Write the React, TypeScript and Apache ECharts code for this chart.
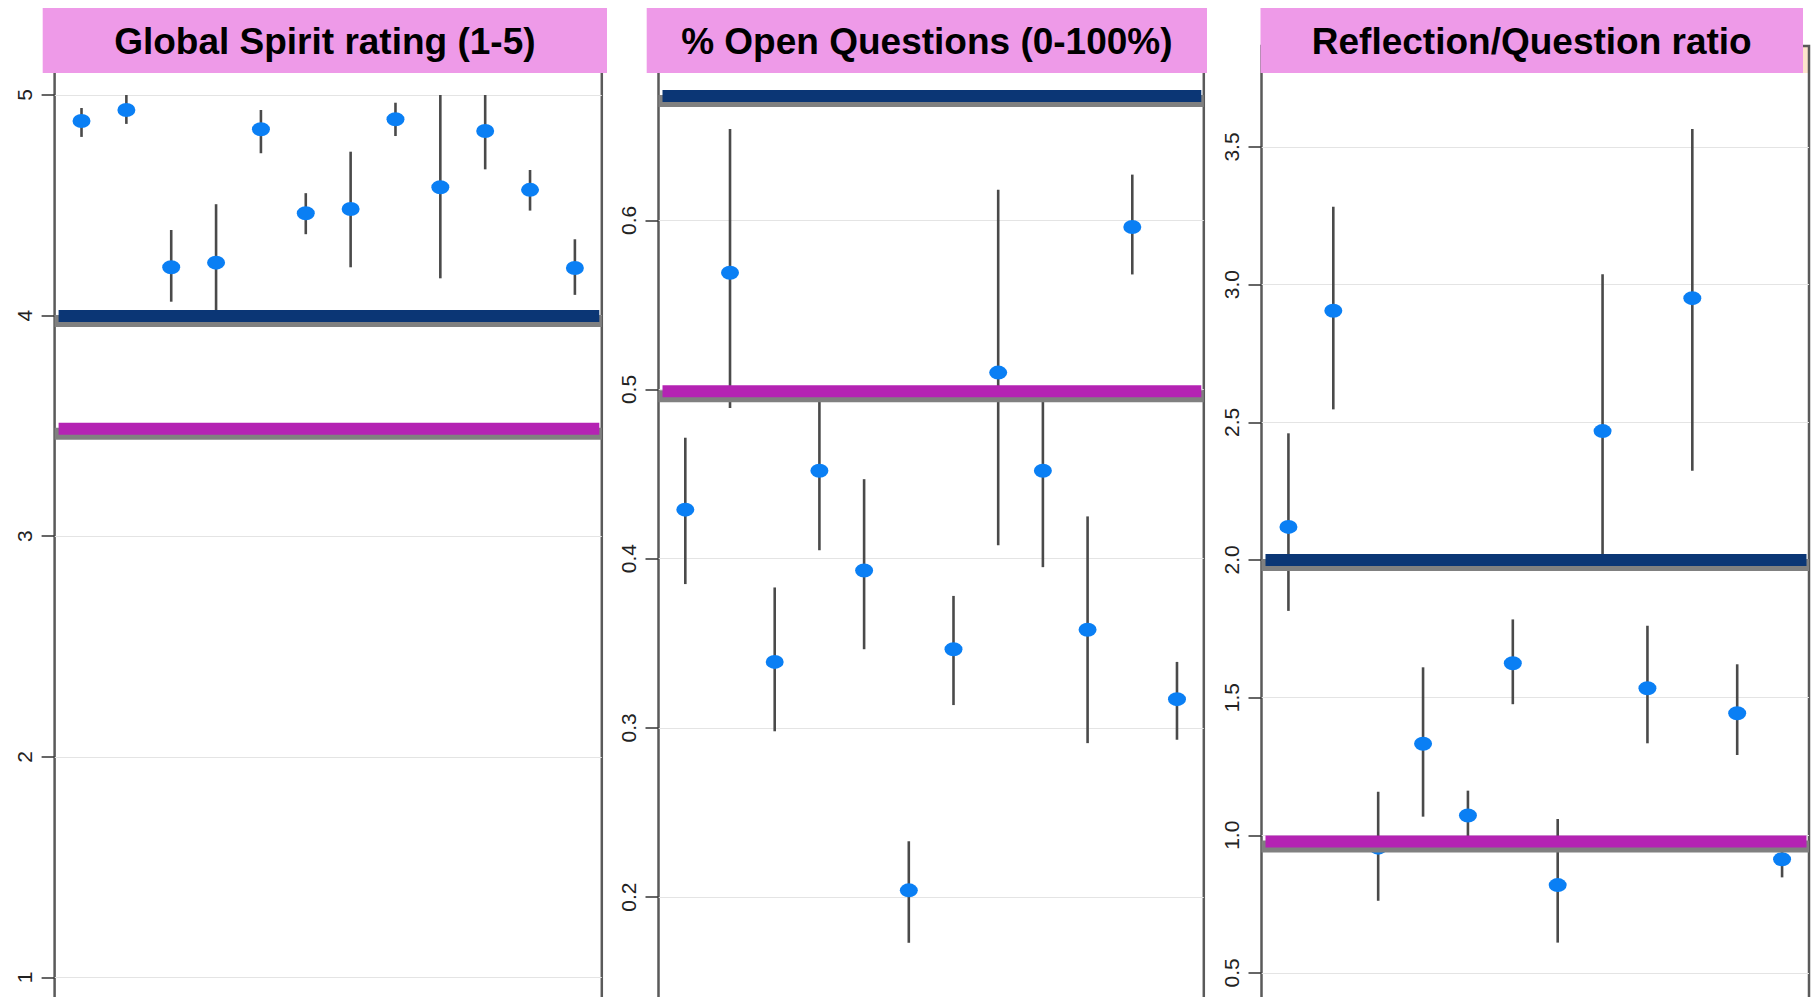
import React, { useEffect, useRef } from "react";
import * as echarts from "echarts";

// ---------- data ----------
const sessions = [1, 2, 3, 4, 5, 6, 7, 8, 9, 10, 11, 12];

// Global Spirit rating (1-5)
const spiritMean = [4.882, 4.932, 4.219, 4.24, 4.845, 4.464, 4.483, 4.89, 4.582, 4.837, 4.57, 4.216];
const spiritLow = [4.81, 4.869, 4.063, 4.0, 4.736, 4.369, 4.219, 4.814, 4.169, 4.663, 4.476, 4.094];
const spiritHigh = [4.941, 5.0, 4.388, 4.505, 4.932, 4.555, 4.743, 4.965, 5.0, 5.0, 4.66, 4.346];
const spiritTicks = [1, 2, 3, 4, 5];
const spiritNavyLine = 3.998;
const spiritMagentaLine = 3.487;

// % Open Questions (0-100%)
const openMean = [0.429, 0.569, 0.339, 0.452, 0.393, 0.204, 0.3465, 0.51, 0.452, 0.358, 0.596, 0.317];
const openLow = [0.385, 0.489, 0.298, 0.405, 0.3465, 0.173, 0.3135, 0.408, 0.395, 0.291, 0.568, 0.293];
const openHigh = [0.4715, 0.654, 0.383, 0.497, 0.447, 0.233, 0.378, 0.618, 0.497, 0.425, 0.627, 0.339];
const openTicks = [0.2, 0.3, 0.4, 0.5, 0.6];
const openNavyLine = 0.6735;
const openMagentaLine = 0.499;

// Reflection/Question ratio
const ratioMean = [2.12, 2.905, 0.955, 1.3325, 1.072, 1.625, 0.819, 2.468, 1.534, 2.951, 1.443, 0.913];
const ratioLow = [1.815, 2.547, 0.762, 1.0675, 0.997, 1.476, 0.61, 2.02, 1.334, 2.324, 1.2915, 0.847];
const ratioHigh = [2.46, 3.283, 1.158, 1.61, 1.162, 1.784, 1.059, 3.038, 1.761, 3.565, 1.621, 0.97];
const ratioTicks = [0.5, 1.0, 1.5, 2.0, 2.5, 3.0, 3.5];
const ratioNavyLine = 2.0;
const ratioMagentaLine = 0.977;

const titles = ["Global Spirit rating (1-5)", "% Open Questions (0-100%)", "Reflection/Question ratio"];

// ---------- layout / style ----------
const X_MIN = 0.4;
const X_MAX = 12.6;
const GRID_TOP = 46;

const panels = [
  {
    title: titles[0], mean: spiritMean, low: spiritLow, high: spiritHigh, ticks: spiritTicks,
    navy: spiritNavyLine, magenta: spiritMagentaLine, decimals: 0,
    left: 54.6, right: 601.8, refValue: 5, refY: 95, ppu: 220.6, interval: 1,
    boxX0: 42.7, boxX1: 607,
  },
  {
    title: titles[1], mean: openMean, low: openLow, high: openHigh, ticks: openTicks,
    navy: openNavyLine, magenta: openMagentaLine, decimals: 1,
    left: 658.5, right: 1203.8, refValue: 0.6, refY: 220.3, ppu: 1692, interval: 0.1,
    boxX0: 646.7, boxX1: 1207,
  },
  {
    title: titles[2], mean: ratioMean, low: ratioLow, high: ratioHigh, ticks: ratioTicks,
    navy: ratioNavyLine, magenta: ratioMagentaLine, decimals: 1,
    left: 1261.5, right: 1809, refValue: 3.5, refY: 147, ppu: 275.3, interval: 0.5,
    boxX0: 1260.5, boxX1: 1803,
  },
];

const NAVY = "#0b3675";
const MAGENTA = "#b423b3";
const SHADOW = "#808080";
const POINT = "#0a7ff4";
const BAR = "#4a4a4a";
const TITLE_BG = "#ee9ae8";

function buildOption() {
  const grid: any[] = [];
  const xAxis: any[] = [];
  const yAxis: any[] = [];
  const series: any[] = [];
  const graphic: any[] = [];

  panels.forEach((p, i) => {
    const yMin = 0;
    const yMax = p.refValue + (p.refY - GRID_TOP) / p.ppu;
    const height = (yMax - yMin) * p.ppu;
    const width = p.right - p.left;
    const pxPerX = width / (X_MAX - X_MIN);

    grid.push({
      left: p.left, top: GRID_TOP, width, height,
      show: true, borderColor: "#5a5a5a", borderWidth: 2.5, backgroundColor: "transparent",
      containLabel: false,
      outerBoundsMode: "none",
    });
    xAxis.push({
      type: "value", gridIndex: i, min: X_MIN, max: X_MAX, show: false,
      splitLine: { show: false },
    });
    yAxis.push({
      type: "value", gridIndex: i, min: yMin, max: yMax, interval: p.interval,
      axisLine: { show: false },
      axisTick: { show: true, inside: false, length: 13, lineStyle: { color: "#333", width: 1.5 }, customValues: p.ticks },
      axisLabel: {
        show: true, rotate: 90, margin: 20, fontSize: 21, color: "#222",
        fontFamily: "'Liberation Sans', Arial, sans-serif",
        customValues: p.ticks,
        formatter: (v: number) => {
          const onTick = p.ticks.some((t) => Math.abs(t - v) < 1e-6);
          return onTick ? v.toFixed(p.decimals) : "";
        },
      },
      splitLine: { show: true, lineStyle: { color: "#e4e4e4", width: 1.2 } },
    });

    // error bars
    series.push({
      type: "custom", xAxisIndex: i, yAxisIndex: i, z: 2,
      data: sessions.map((s, k) => [s, p.low[k], p.high[k]]),
      encode: { x: 0, y: [1, 2] },
      renderItem: (_params: any, api: any) => {
        const x = api.value(0);
        const a = api.coord([x, api.value(1)]);
        const b = api.coord([x, api.value(2)]);
        return {
          type: "line",
          shape: { x1: a[0], y1: a[1], x2: b[0], y2: b[1] },
          style: { stroke: BAR, lineWidth: 2.6 },
        };
      },
    });
    // points
    series.push({
      type: "scatter", xAxisIndex: i, yAxisIndex: i, z: 3,
      symbol: "path://M0,1A1,1,0,1,0,2,1A1,1,0,1,0,0,1Z",
      symbolSize: [18, 14],
      itemStyle: { color: POINT, opacity: 1 },
      data: sessions.map((s, k) => [s, p.mean[k]]),
    });
    // reference lines with grey shadow
    [p.navy, p.magenta].forEach((v, j) => {
      const color = j === 0 ? NAVY : MAGENTA;
      const shadowV = v - 5 / p.ppu;
      series.push({
        type: "line", xAxisIndex: i, yAxisIndex: i, z: 4, symbol: "none", silent: true,
        lineStyle: { color: SHADOW, width: 12, cap: "butt" },
        data: [[X_MIN, shadowV], [X_MAX, shadowV]],
      });
      series.push({
        type: "line", xAxisIndex: i, yAxisIndex: i, z: 5, symbol: "none", silent: true,
        lineStyle: { color, width: 12, cap: "butt" },
        data: [[X_MIN + 4 / pxPerX, v], [X_MAX - 2.5 / pxPerX, v]],
      });
    });

    // title boxes
    graphic.push({
      type: "rect", z: 100, silent: true,
      shape: { x: p.boxX0, y: 8, width: p.boxX1 - p.boxX0, height: 65 },
      style: { fill: TITLE_BG },
    });
    graphic.push({
      type: "text", z: 101, silent: true,
      x: (p.boxX0 + p.boxX1) / 2, y: 41,
      style: {
        text: p.title, fill: "#000",
        font: "bold 37px 'Liberation Sans', Arial, sans-serif",
        align: "center", verticalAlign: "middle",
        textAlign: "center", textVerticalAlign: "middle",
      },
    });
  });

  // small peach box peeking out at top right
  graphic.push({
    type: "rect", z: -10, silent: true,
    shape: { x: 1790, y: 46, width: 19, height: 27 },
    style: { fill: "#fde4cc" },
  });

  return {
    animation: false,
    backgroundColor: "#ffffff",
    grid, xAxis, yAxis, series, graphic,
  };
}

export default function App() {
  const ref = useRef<HTMLDivElement>(null);
  useEffect(() => {
    if (!ref.current) return;
    const chart = echarts.init(ref.current, null, { renderer: "svg" });
    chart.setOption(buildOption() as any);
    return () => chart.dispose();
  }, []);
  return (
    <div
      ref={ref}
      style={{ position: "absolute", left: 0, top: 0, width: 1820, height: 997, overflow: "hidden" }}
    />
  );
}
